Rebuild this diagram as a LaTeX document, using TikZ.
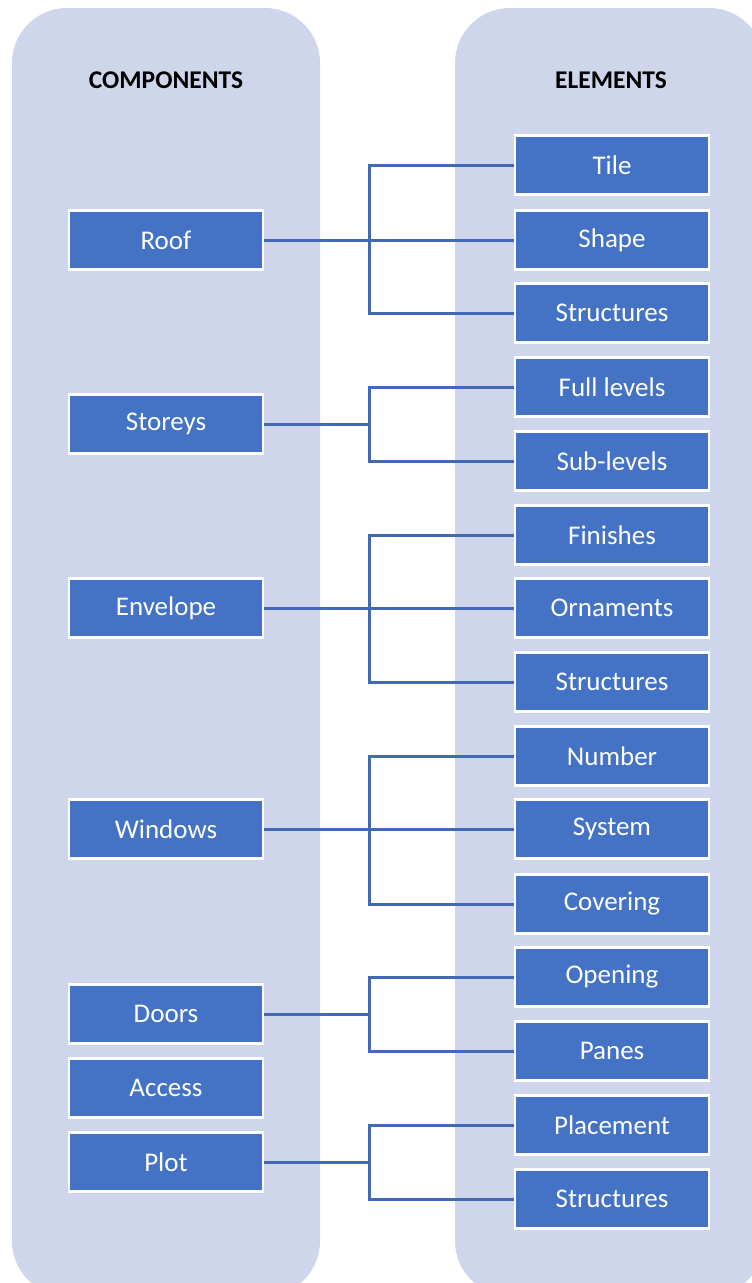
\documentclass[tikz,border=0pt]{standalone}
\usepackage{fontspec}
\setmainfont{Carlito}
\definecolor{boxblue}{HTML}{4472C4}
\definecolor{panelblue}{HTML}{CFD5EA}
\definecolor{linkblue}{HTML}{4169B4}
\begin{document}
\begin{tikzpicture}[x=1pt,y=-1pt,
    panel/.style={fill=panelblue,rounded corners=55pt},
    head/.style={font=\fontsize{25.5}{30}\selectfont\bfseries,text=black},
    item/.style={draw=white,line width=2.5pt,fill=boxblue,text=white,
        minimum width=194pt,minimum height=59pt,inner sep=0pt,
        font=\fontsize{27}{32}\selectfont},
    link/.style={draw=linkblue,line width=3pt}]
    \useasboundingbox (0,0) rectangle (752,1283);
    \fill[panel] (12,8) rectangle (320,1296);
    \fill[panel] (455,8) rectangle (764,1296);

    \node[head] (comphead) at (166,80) {COMPONENTS};
    \node[head] (elemhead) at (611,80) {ELEMENTS};

    % components
    \node[item] (roof) at (166,240) {Roof};
    \node[item] (storeys) at (166,424) {Storeys};
    \node[item] (envelope) at (166,608) {Envelope};
    \node[item] (windows) at (166,829) {Windows};
    \node[item] (doors) at (166,1014) {Doors};
    \node[item] (access) at (166,1088) {Access};
    \node[item] (plot) at (166,1162) {Plot};

    % elements
    \node[item] (tile) at (612,165) {Tile};
    \node[item] (shape) at (612,240) {Shape};
    \node[item] (roofstruct) at (612,313) {Structures};
    \node[item] (full) at (612,387) {Full levels};
    \node[item] (sub) at (612,461) {Sub-levels};
    \node[item] (finishes) at (612,535) {Finishes};
    \node[item] (ornaments) at (612,608) {Ornaments};
    \node[item] (envstruct) at (612,682) {Structures};
    \node[item] (number) at (612,756) {Number};
    \node[item] (system) at (612,829) {System};
    \node[item] (covering) at (612,904) {Covering};
    \node[item] (opening) at (612,977) {Opening};
    \node[item] (panes) at (612,1051) {Panes};
    \node[item] (placement) at (612,1125) {Placement};
    \node[item] (plotstruct) at (612,1199) {Structures};

    % junctions
    \coordinate (jroof) at (369,240);
    \coordinate (jstoreys) at (369,424);
    \coordinate (jenvelope) at (369,608);
    \coordinate (jwindows) at (369,829);
    \coordinate (jdoors) at (369,1014);
    \coordinate (jplot) at (369,1162);

    % connectors
    \draw[link] (roof.east) -- (shape.west);
    \draw[link] (tile.west) -| (jroof) |- (roofstruct.west);
    \draw[link] (storeys.east) -- (jstoreys);
    \draw[link] (full.west) -| (jstoreys) |- (sub.west);
    \draw[link] (envelope.east) -- (ornaments.west);
    \draw[link] (finishes.west) -| (jenvelope) |- (envstruct.west);
    \draw[link] (windows.east) -- (system.west);
    \draw[link] (number.west) -| (jwindows) |- (covering.west);
    \draw[link] (doors.east) -- (jdoors);
    \draw[link] (opening.west) -| (jdoors) |- (panes.west);
    \draw[link] (plot.east) -- (jplot);
    \draw[link] (placement.west) -| (jplot) |- (plotstruct.west);
\end{tikzpicture}
\end{document}
